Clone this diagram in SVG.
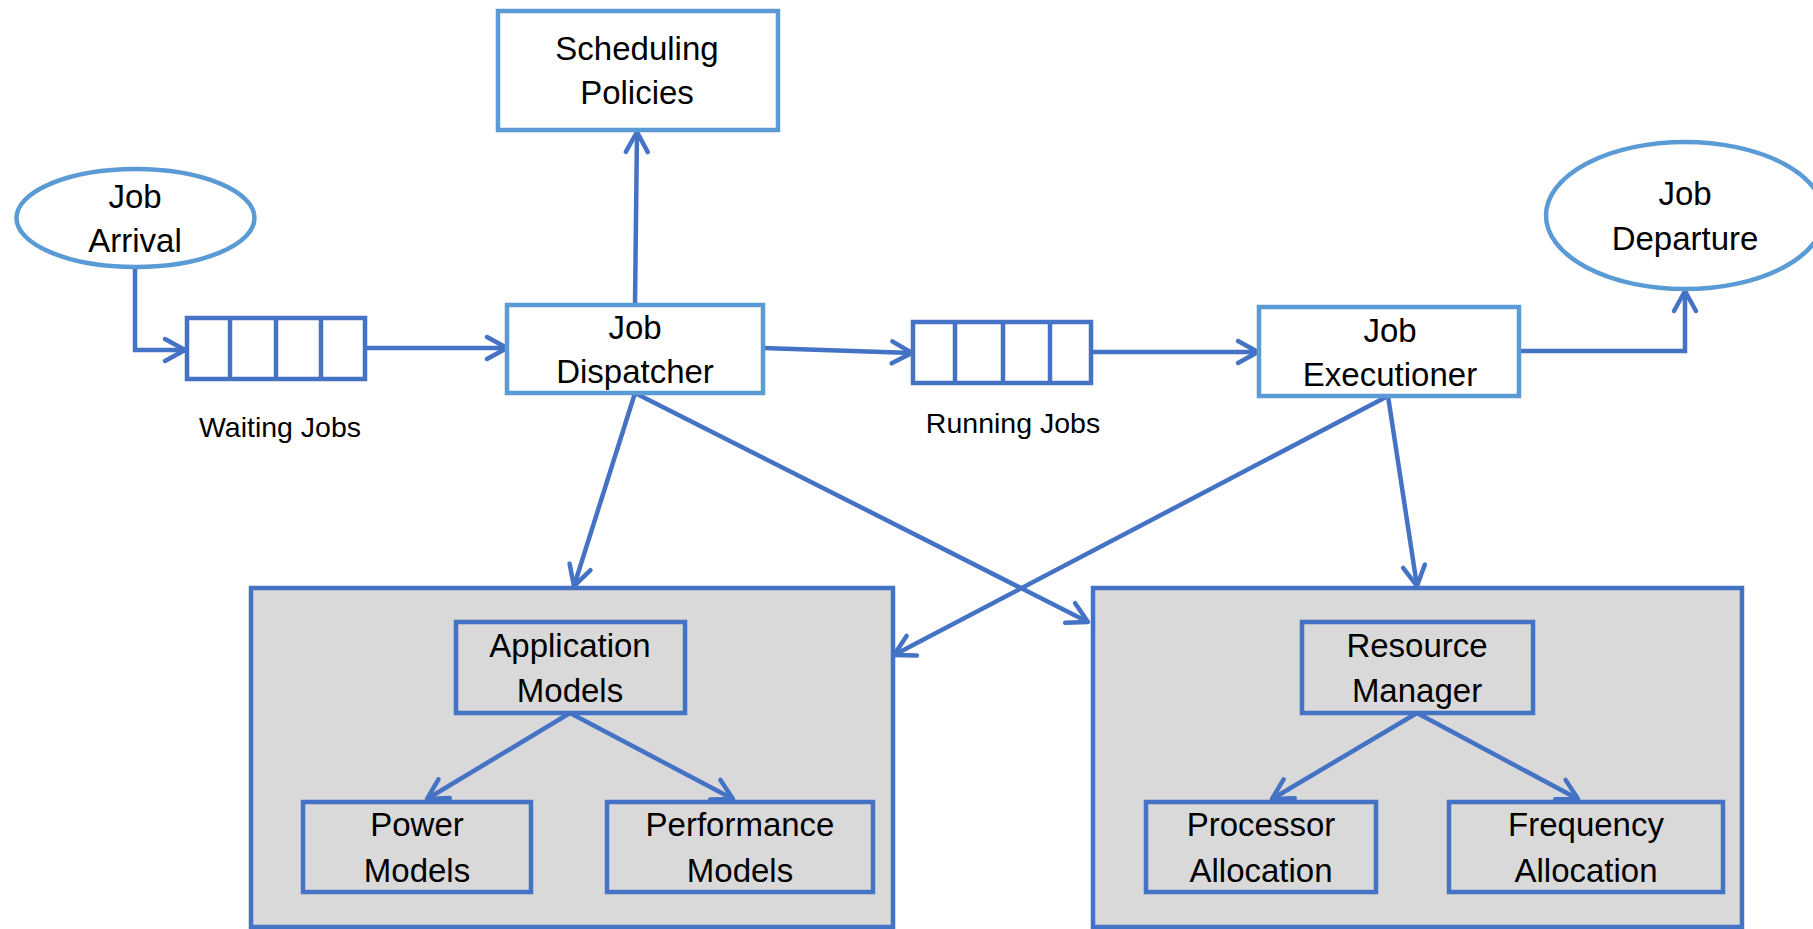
<svg xmlns="http://www.w3.org/2000/svg" width="1813" height="929" viewBox="0 0 1813 929">
<style>
.lb{fill:#FFFFFF;stroke:#5B9BD5;stroke-width:4.5}
.gb{fill:#D9D9D9;stroke:#4472C4;stroke-width:4.5}
.ib{fill:#D9D9D9;stroke:#4472C4;stroke-width:4.5}
.q{fill:#FFFFFF;stroke:#4472C4;stroke-width:4.5}
.t{font-family:"Liberation Sans",Arial,sans-serif;font-size:33px;fill:#000000;text-anchor:middle}
.s{font-family:"Liberation Sans",Arial,sans-serif;font-size:28.5px;fill:#000000;text-anchor:middle}
.c{fill:none;stroke:#4472C4;stroke-width:4.5;marker-end:url(#arr)}
</style>
<defs>
<marker id="arr" markerUnits="userSpaceOnUse" markerWidth="32" markerHeight="32" viewBox="-26 -16 32 32" refX="0" refY="0" orient="auto">
<path d="M-20,-11 L0,0 L-20,11" fill="none" stroke="#4472C4" stroke-width="4.5" stroke-linecap="round" stroke-linejoin="round"/>
</marker>
</defs>
<rect width="1813" height="929" fill="#FFFFFF"/>

<g id="group-left">
<rect class="gb" x="251" y="588" width="642" height="339"/>
</g>
<g id="group-right">
<rect class="gb" x="1093" y="588" width="649" height="339"/>
</g>

<g id="connectors">
<path class="c" d="M135,267 L135,350 L185,350"/>
<path class="c" d="M365,348 L507,348"/>
<path class="c" d="M635,304 L637,132"/>
<path class="c" d="M763,348 L912,353"/>
<path class="c" d="M1091,352 L1258,352"/>
<path class="c" d="M1519,351 L1685,351 L1685,291"/>
<path class="c" d="M635,393 L574,586"/>
<path class="c" d="M635,393 L1088,622"/>
<path class="c" d="M1388,396 L894,655"/>
<path class="c" d="M1388,396 L1417,586"/>
<path class="c" d="M570,713 L427,799"/>
<path class="c" d="M570,713 L733,799"/>
<path class="c" d="M1417,713 L1272,799"/>
<path class="c" d="M1417,713 L1578,799"/>
</g>

<g id="scheduling-policies">
<rect class="lb" x="498" y="11" width="280" height="119"/>
<text class="t" x="637" y="60">Scheduling</text>
<text class="t" x="637" y="104">Policies</text>
</g>

<g id="job-arrival">
<ellipse class="lb" cx="135.5" cy="218" rx="119" ry="49"/>
<text class="t" x="135" y="208">Job</text>
<text class="t" x="135" y="252">Arrival</text>
</g>

<g id="waiting-jobs">
<rect class="q" x="187" y="318" width="178" height="61"/>
<line class="q" x1="230" y1="318" x2="230" y2="379"/>
<line class="q" x1="276" y1="318" x2="276" y2="379"/>
<line class="q" x1="321" y1="318" x2="321" y2="379"/>
<text class="s" x="280" y="437">Waiting Jobs</text>
</g>

<g id="job-dispatcher">
<rect class="lb" x="507" y="305" width="256" height="88"/>
<text class="t" x="635" y="339">Job</text>
<text class="t" x="635" y="383">Dispatcher</text>
</g>

<g id="running-jobs">
<rect class="q" x="913" y="322" width="178" height="61"/>
<line class="q" x1="955" y1="322" x2="955" y2="383"/>
<line class="q" x1="1003" y1="322" x2="1003" y2="383"/>
<line class="q" x1="1050" y1="322" x2="1050" y2="383"/>
<text class="s" x="1013" y="433">Running Jobs</text>
</g>

<g id="job-executioner">
<rect class="lb" x="1259" y="307" width="260" height="89"/>
<text class="t" x="1390" y="342">Job</text>
<text class="t" x="1390" y="386">Executioner</text>
</g>

<g id="job-departure">
<ellipse class="lb" cx="1685" cy="215.5" rx="139" ry="73.5"/>
<text class="t" x="1685" y="205">Job</text>
<text class="t" x="1685" y="250">Departure</text>
</g>

<g id="application-models">
<rect class="ib" x="456" y="622" width="229" height="91"/>
<text class="t" x="570" y="657">Application</text>
<text class="t" x="570" y="702">Models</text>
</g>
<g id="power-models">
<rect class="ib" x="303" y="802" width="228" height="90"/>
<text class="t" x="417" y="836">Power</text>
<text class="t" x="417" y="882">Models</text>
</g>
<g id="performance-models">
<rect class="ib" x="607" y="802" width="266" height="90"/>
<text class="t" x="740" y="836">Performance</text>
<text class="t" x="740" y="882">Models</text>
</g>

<g id="resource-manager">
<rect class="ib" x="1302" y="622" width="231" height="91"/>
<text class="t" x="1417" y="657">Resource</text>
<text class="t" x="1417" y="702">Manager</text>
</g>
<g id="processor-allocation">
<rect class="ib" x="1146" y="802" width="230" height="90"/>
<text class="t" x="1261" y="836">Processor</text>
<text class="t" x="1261" y="882">Allocation</text>
</g>
<g id="frequency-allocation">
<rect class="ib" x="1449" y="802" width="274" height="90"/>
<text class="t" x="1586" y="836">Frequency</text>
<text class="t" x="1586" y="882">Allocation</text>
</g>
</svg>
